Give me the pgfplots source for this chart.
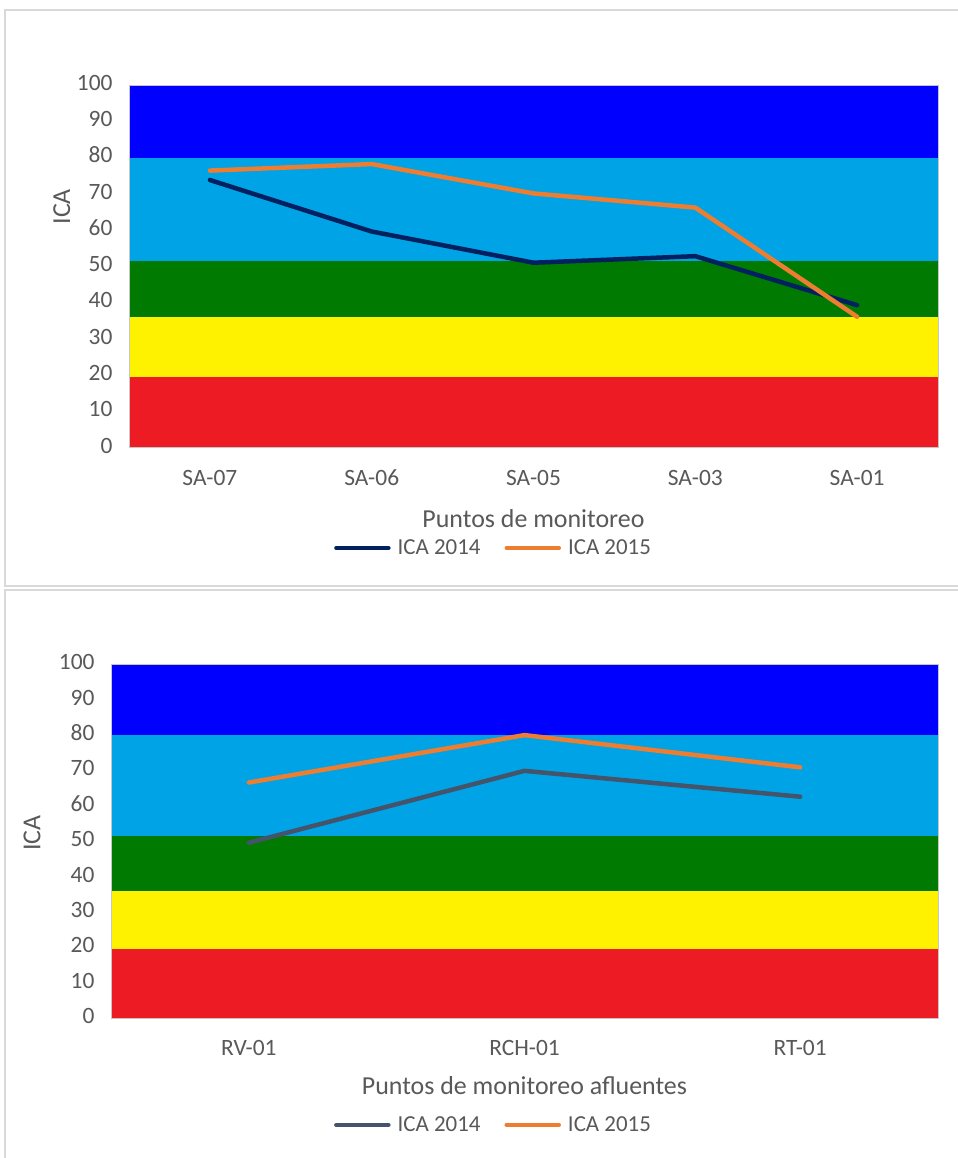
\documentclass[border=0pt]{standalone}
\usepackage{fontspec}
\setmainfont{Carlito}
\usepackage{pgfplots}
\pgfplotsset{compat=1.18}

\definecolor{bandblue}{HTML}{0000FF}
\definecolor{bandsky}{HTML}{00A3E6}
\definecolor{bandgreen}{HTML}{007A00}
\definecolor{bandyellow}{HTML}{FFF200}
\definecolor{bandred}{HTML}{ED1C24}
\definecolor{navyline}{HTML}{002060}
\definecolor{slateline}{HTML}{44546A}
\definecolor{orangeline}{HTML}{ED7D31}
\definecolor{txt}{HTML}{595959}
\definecolor{framegray}{HTML}{D9D9D9}

\pgfplotsset{
  icachart/.style={
    scale only axis,
    axis on top,
    ymin=0, ymax=100,
    ytick={0,10,...,100},
    axis line style={draw=gray!45, line width=0.8bp},
    major tick length=0pt,
    tick style={draw=none},
    /pgf/number format/assume math mode=true,
    typeset ticklabels with strut,
    tick label style={font=\fontsize{23.5}{27}\selectfont, text=txt},
    yticklabel style={xshift=-13bp},
    xticklabel style={yshift=-15bp},
    label style={font=\fontsize{26}{30}\selectfont, text=txt},
    xlabel style={anchor=center},
    ylabel style={anchor=center},
    legend columns=2,
    legend cell align=left,
    legend style={draw=none, fill=none, anchor=center,
      font=\fontsize{23}{27}\selectfont, text=txt,
      /tikz/every odd column/.append style={column sep=5bp},
      /tikz/every even column/.append style={column sep=22bp}},
    legend image code/.code={\draw[#1, line cap=round] (0bp,0bp) -- (52bp,0bp);},
  },
  ica line/.style={line width=4.5bp, line join=round, line cap=round},
}

\begin{document}
\begin{tikzpicture}
\useasboundingbox (0bp,0bp) rectangle (958bp,1158bp);
\fill[white] (0bp,0bp) rectangle (958bp,1158bp);
% chart frames
\draw[framegray, line width=1.5bp] (5bp,572bp) rectangle (975bp,1148bp);
\draw[framegray, line width=1.5bp] (5bp,-20bp) rectangle (975bp,568bp);

% main channel stations
\begin{axis}[icachart,
  at={(129bp,710.3bp)}, anchor=south west,
  width=809bp, height=362.7bp,
  xmin=-0.5, xmax=4.5,
  xtick={0,1,2,3,4},
  xticklabels={SA-07,SA-06,SA-05,SA-03,SA-01},
  xlabel={Puntos de monitoreo},
  ylabel={ICA},
  xlabel style={at={(axis description cs:0.5,-0.1966)}},
  ylabel style={at={(axis description cs:-0.083,0.664)}},
  legend style={at={(axis description cs:0.4506,-0.2765)}},
]
\addplot[fill=bandblue, draw=none, forget plot] coordinates {(-0.5,100) (4.5,100)} \closedcycle;
\addplot[fill=bandsky, draw=none, forget plot] coordinates {(-0.5,80) (4.5,80)} \closedcycle;
\addplot[fill=bandgreen, draw=none, forget plot] coordinates {(-0.5,51.6) (4.5,51.6)} \closedcycle;
\addplot[fill=bandyellow, draw=none, forget plot] coordinates {(-0.5,35.9) (4.5,35.9)} \closedcycle;
\addplot[fill=bandred, draw=none, forget plot] coordinates {(-0.5,19.5) (4.5,19.5)} \closedcycle;
\addplot[navyline, ica line] coordinates {(0,73.8) (1,59.6) (2,51.0) (3,52.8) (4,39.3)};
\addlegendentry{ICA 2014}
\addplot[orangeline, ica line] coordinates {(0,76.4) (1,78.2) (2,70.1) (3,66.2) (4,36.1)};
\addlegendentry{ICA 2015}
\end{axis}

% tributary stations
\begin{axis}[icachart,
  at={(111bp,139.7bp)}, anchor=south west,
  width=827bp, height=354bp,
  xmin=-0.5, xmax=2.5,
  xtick={0,1,2},
  xticklabels={RV-01,RCH-01,RT-01},
  xlabel={Puntos de monitoreo afluentes},
  ylabel={ICA},
  xlabel style={at={(axis description cs:0.5,-0.191)}},
  ylabel style={at={(axis description cs:-0.0955,0.523)}},
  legend style={at={(axis description cs:0.4625,-0.301)}},
]
\addplot[fill=bandblue, draw=none, forget plot] coordinates {(-0.5,100) (2.5,100)} \closedcycle;
\addplot[fill=bandsky, draw=none, forget plot] coordinates {(-0.5,80) (2.5,80)} \closedcycle;
\addplot[fill=bandgreen, draw=none, forget plot] coordinates {(-0.5,51.6) (2.5,51.6)} \closedcycle;
\addplot[fill=bandyellow, draw=none, forget plot] coordinates {(-0.5,35.9) (2.5,35.9)} \closedcycle;
\addplot[fill=bandred, draw=none, forget plot] coordinates {(-0.5,19.5) (2.5,19.5)} \closedcycle;
\addplot[slateline, ica line] coordinates {(0,49.6) (1,69.9) (2,62.6)};
\addlegendentry{ICA 2014}
\addplot[orangeline, ica line] coordinates {(0,66.6) (1,80.0) (2,70.9)};
\addlegendentry{ICA 2015}
\end{axis}
\end{tikzpicture}
\end{document}
